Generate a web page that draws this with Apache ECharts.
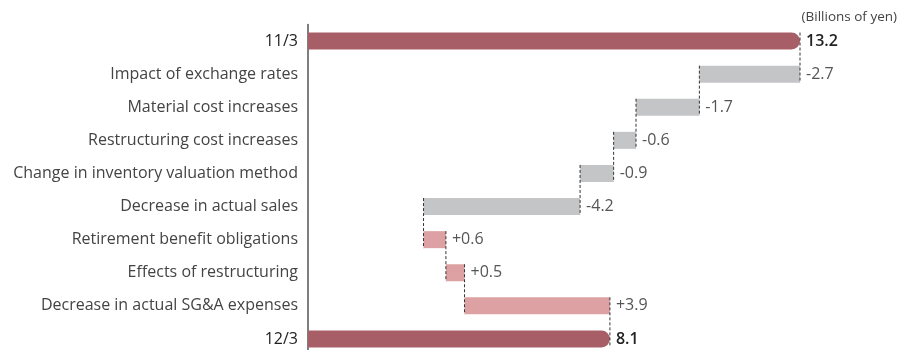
<!DOCTYPE html>
<html><head><meta charset="utf-8">
<script src="https://cdn.jsdelivr.net/npm/echarts@6/dist/echarts.min.js"></script>
<style>html,body{margin:0;padding:0;background:#fff}#c{width:900px;height:350px}</style>
</head><body><div id="c"></div>
<script>
const categories = ['11/3','Impact of exchange rates','Material cost increases','Restructuring cost increases','Change in inventory valuation method','Decrease in actual sales','Retirement benefit obligations','Effects of restructuring','Decrease in actual SG&A expenses','12/3'];
const startValue = 13.2;
const changes = [-2.7,-1.7,-0.6,-0.9,-4.2,0.6,0.5,3.9];
const endValue = 8.1;
const unitLabel = '(Billions of yen)';

const C_TOTAL = '#a85e66', C_NEG = '#c4c5c7', C_POS = '#dda1a3';
const r1 = v => Math.round(v*10)/10;

const totalLabel = v => ({formatter: v.toFixed(1), color:'#222', fontSize:16, fontWeight:600});
const base = [0], vis = [], connectors = [];
vis.push({value: startValue, itemStyle:{color:C_TOTAL, borderRadius:[0,9,9,0]}, label: totalLabel(startValue)});
let run = startValue;
changes.forEach((c,i) => {
  connectors.push([run, i]);
  const next = r1(run + c);
  base.push(Math.min(run,next));
  vis.push({value: Math.abs(c), itemStyle:{color: c<0?C_NEG:C_POS}, label:{formatter:(c>0?'+':'')+c.toFixed(1)}});
  run = next;
});
connectors.push([run, changes.length]);
base.push(0);
vis.push({value: endValue, itemStyle:{color:C_TOTAL, borderRadius:[0,9,9,0]}, label: totalLabel(endValue)});

const BW = 17;
const chart = echarts.init(document.getElementById('c'));
chart.setOption({
  animation:false,
  textStyle:{fontFamily:'Open Sans'},
  title:{text:unitLabel, right:3, top:10, padding:0, textStyle:{fontSize:13.5, fontWeight:'normal', color:'#444', fontFamily:'Open Sans'}},
  grid:{left:308, width:492, top:24.5, height:331, outerBoundsMode:'none', containLabel:false},
  xAxis:{type:'value', min:0, max:startValue, show:false},
  yAxis:{type:'category', data:categories, inverse:true,
    axisLine:{lineStyle:{color:'#555', width:1.5}}, axisTick:{show:false},
    axisLabel:{margin:10, fontSize:16, color:'#444', fontFamily:'Open Sans',
      formatter:(v,i)=> (i===0||i===categories.length-1)?'{b|'+v+'}':v,
      rich:{b:{fontSize:16, color:'#222', fontWeight:500, fontFamily:'Open Sans'}}}},
  series:[
    {type:'bar', stack:'w', data:base, barWidth:BW, itemStyle:{color:'transparent'}, silent:true},
    {type:'bar', stack:'w', data:vis, barWidth:BW,
      label:{show:true, position:'right', distance:6, fontSize:16, color:'#555', fontFamily:'Open Sans'}},
    {type:'custom', data:connectors, z:5,
      renderItem:(params, api)=>{
        const x = api.value(0), i = api.value(1);
        const p1 = api.coord([x, i]), p2 = api.coord([x, i+1]);
        return {type:'line', shape:{x1:p1[0], y1:p1[1]-BW/2, x2:p2[0], y2:p2[1]+BW/2},
          style:{stroke:'#333', lineWidth:1, lineDash:[3,2]}};
      }}
  ]
});
</script></body></html>
